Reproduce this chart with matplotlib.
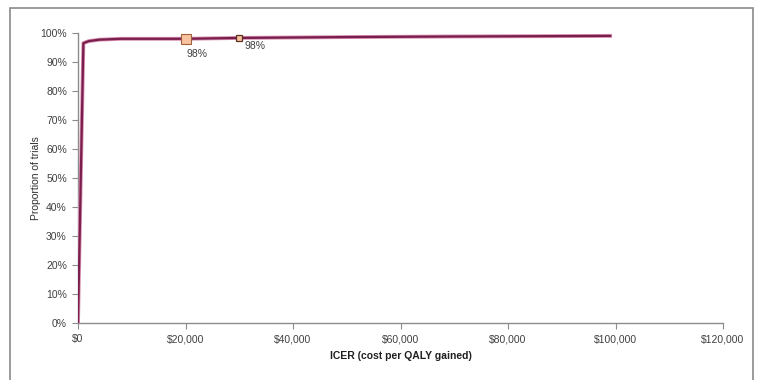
import matplotlib
matplotlib.use("Agg")
import matplotlib.pyplot as plt
import matplotlib.patheffects as pe
from matplotlib.patches import Rectangle
from matplotlib.ticker import FuncFormatter, PercentFormatter

plt.rcParams['font.family'] = ['Liberation Sans', 'DejaVu Sans']

# Cost-effectiveness acceptability curve
icer = [0, 1000, 2000, 4000, 8000, 20000, 30000, 50000, 70000, 99000]
prop = [0.0, 0.965, 0.972, 0.977, 0.980, 0.980, 0.983, 0.986, 0.988, 0.990]

# Highlighted willingness-to-pay thresholds
thr_x = [20000, 30000]
thr_y = [0.980, 0.983]
thr_labels = ["98%", "98%"]

x_ticks = [0, 20000, 40000, 60000, 80000, 100000, 120000]
y_ticks = [i / 10 for i in range(11)]

fig = plt.figure(figsize=(7.64, 3.8), dpi=100)
fig.patch.set_facecolor('white')

# outer chart border
fig.add_artist(Rectangle((10 / 764, -0.2), 743 / 764, 1.2 - 8 / 380,
                         transform=fig.transFigure, fill=False,
                         edgecolor='#8a8a8a', linewidth=1.2))

ax = fig.add_axes([78 / 764, 1 - 323 / 380, 645 / 764, 290 / 380])
ax.plot(icer, prop, color='#7A1E4E', linewidth=1.6, solid_joinstyle='round',
        path_effects=[pe.Stroke(linewidth=2.8, foreground='#D890B0'), pe.Normal()],
        zorder=3)

ax.plot(thr_x[0], thr_y[0], marker='s', markersize=7, markerfacecolor='#F9C3A0',
        markeredgecolor='#A0603C', markeredgewidth=0.8, zorder=4)
ax.plot(thr_x[1], thr_y[1], marker='s', markersize=5, markerfacecolor='#F9C3A0',
        markeredgecolor='#5A3020', markeredgewidth=0.9, zorder=4)

ax.annotate(thr_labels[0], (thr_x[0], thr_y[0]), xytext=(1, -11),
            textcoords='offset points', fontsize=7.5, color='#404040',
            ha='left', va='center')
ax.annotate(thr_labels[1], (thr_x[1], thr_y[1]), xytext=(4, -6),
            textcoords='offset points', fontsize=7.5, color='#404040',
            ha='left', va='center')

ax.set_xlim(0, 120000)
ax.set_ylim(0, 1)
ax.set_xticks(x_ticks)
ax.set_yticks(y_ticks)
ax.xaxis.set_major_formatter(FuncFormatter(lambda v, p: f"${int(v):,}"))
ax.yaxis.set_major_formatter(PercentFormatter(1.0, decimals=0))

for s in ['top', 'right']:
    ax.spines[s].set_visible(False)
for s in ['left', 'bottom']:
    ax.spines[s].set_color('#8c8c8c')
    ax.spines[s].set_linewidth(1.0)

ax.tick_params(axis='both', colors='#8c8c8c', labelcolor='#404040',
               labelsize=7.5, length=4, width=0.8, direction='out')
ax.tick_params(axis='x', pad=4)
ax.tick_params(axis='y', pad=4)

ax.set_xlabel("ICER (cost per QALY gained)", fontsize=7.5, fontweight='bold',
              color='#202020', labelpad=5)
ax.set_ylabel("Proportion of trials", fontsize=7.5, color='#303030')
ax.yaxis.set_label_coords(-0.058, 0.5)

fig.savefig("out.png", dpi=100)
